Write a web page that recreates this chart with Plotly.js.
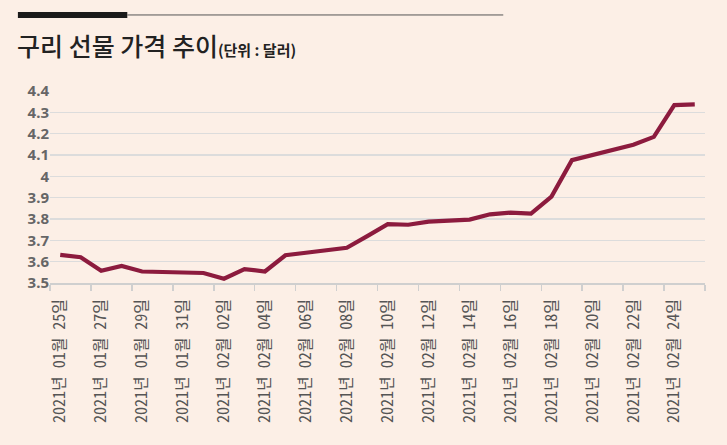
<!DOCTYPE html>
<html>
<head>
<meta charset="utf-8">
<script src="https://cdn.plot.ly/plotly-3.0.1.min.js"></script>
<style>
  html, body { margin: 0; padding: 0; background: #fcefe6; }
</style>
</head>
<body>
<div id="myDiv" style="width:727px;height:445px;"></div>
<script>
// 일별 구리 선물 가격 (단위: 달러)
var dates = [
    "2021년 01월 25일", "2021년 01월 26일", "2021년 01월 27일", "2021년 01월 28일",
    "2021년 01월 29일", "2021년 01월 30일", "2021년 01월 31일", "2021년 02월 01일",
    "2021년 02월 02일", "2021년 02월 03일", "2021년 02월 04일", "2021년 02월 05일",
    "2021년 02월 06일", "2021년 02월 07일", "2021년 02월 08일", "2021년 02월 09일",
    "2021년 02월 10일", "2021년 02월 11일", "2021년 02월 12일", "2021년 02월 13일",
    "2021년 02월 14일", "2021년 02월 15일", "2021년 02월 16일", "2021년 02월 17일",
    "2021년 02월 18일", "2021년 02월 19일", "2021년 02월 20일", "2021년 02월 21일",
    "2021년 02월 22일", "2021년 02월 23일", "2021년 02월 24일", "2021년 02월 25일"
];

var prices = [
    3.632, 3.621, 3.557, 3.580, 3.554, 3.551, 3.549, 3.547,
    3.520, 3.565, 3.554, 3.630, 3.642, 3.652, 3.665, 3.720,
    3.776, 3.773, 3.788, 3.792, 3.797, 3.822, 3.830, 3.825,
    3.905, 4.076, 4.100, 4.122, 4.148, 4.185, 4.334, 4.337
];

var yTicks = [3.5, 3.6, 3.7, 3.8, 3.9, 4, 4.1, 4.2, 4.3, 4.4];

var bg = "#fcefe6";

var trace1 = {
    x: dates,
    y: prices,
    type: 'scatter',
    mode: 'lines',
    line: { color: '#8c1b3e', width: 4.2 },
    hoverinfo: 'skip'
};

var layout = {
    width: 727,
    height: 445,
    margin: { l: 50, r: 22, t: 91, b: 162 },
    paper_bgcolor: bg,
    plot_bgcolor: bg,
    showlegend: false,
    font: { family: "'Noto Sans CJK KR', 'Noto Sans', sans-serif", color: '#666' },
    title: {
        text: '구리 선물 가격 추이<span style="font-size:15px;font-weight:bold;">(단위 : 달러)</span>',
        font: { size: 25, color: '#222', family: "'Noto Sans CJK KR', sans-serif", weight: 500 },
        xref: 'container', yref: 'container',
        x: 17 / 727, xanchor: 'left',
        y: 1 - 47 / 445, yanchor: 'middle'
    },
    xaxis: {
        type: 'category',
        range: [-0.5, 31.5],
        tickmode: 'linear',
        tick0: 0,
        dtick: 2,
        tickson: 'boundaries',
        ticks: 'outside',
        ticklen: 6,
        tickcolor: '#cfcfcf',
        tickwidth: 1.5,
        ticklabelstandoff: 8,
        showline: true,
        linecolor: '#cfcfcf',
        linewidth: 1.5,
        showgrid: false,
        tickangle: -90,
        tickfont: { size: 16, color: '#555', family: "'Noto Sans Mono CJK KR', 'Noto Sans CJK KR', sans-serif" },
        fixedrange: true
    },
    yaxis: {
        range: [3.5, 4.4],
        tickvals: yTicks,
        ticktext: yTicks.map(function (v) { return String(v); }),
        showgrid: true,
        gridcolor: '#dcdcdc',
        gridwidth: 1.5,
        zeroline: false,
        showline: false,
        ticks: '',
        tickfont: { size: 15, color: '#666', family: "'Noto Sans', sans-serif", weight: 'bold' },
        fixedrange: true
    },
    shapes: [
        // 제목 위 장식선
        { type: 'line', xref: 'paper', yref: 'paper',
          x0: -0.049, x1: 0.118, y0: 1.396, y1: 1.396,
          line: { color: '#1a1a1a', width: 6 } },
        { type: 'line', xref: 'paper', yref: 'paper',
          x0: 0.118, x1: 0.692, y0: 1.396, y1: 1.396,
          line: { color: '#555', width: 1 } }
    ]
};

Plotly.newPlot('myDiv', [trace1], layout, { displayModeBar: false, staticPlot: true });
</script>
</body>
</html>
